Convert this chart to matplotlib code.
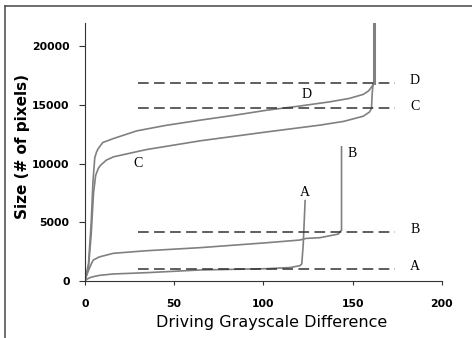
import matplotlib.pyplot as plt
from matplotlib.lines import Line2D

# --- DATA ---
A_X = [0, 1, 3, 4.7, 8, 15.9, 34.5, 64.4, 101.8, 115, 120.4, 121.5, 122.3, 123.4]
A_Y = [0, 150, 300, 370, 480, 600, 710, 940, 1050, 1150, 1300, 1450, 3000, 6850]

B_X = [0, 1, 2.5, 4, 4.7, 8, 15.9, 34.5, 64.4, 101.8, 120.4, 124, 131.7, 139, 142, 143.2, 143.8, 143.8]
B_Y = [0, 500, 1100, 1600, 1790, 2050, 2360, 2580, 2840, 3260, 3490, 3630, 3690, 3910, 4000, 4255, 4300, 11430]

C_X = [0, 2, 3.5, 4.8, 6, 7.5, 8.8, 12, 16, 34.5, 64.4, 101.8, 131.7, 145, 156, 159.5, 160.6, 161, 161.5]
C_Y = [0, 1200, 4000, 7500, 9000, 9600, 9870, 10300, 10580, 11200, 11940, 12700, 13280, 13600, 14040, 14400, 14700, 16000, 16800]

D_X = [0, 2, 3.5, 4.5, 5.5, 6.5, 7.5, 10, 16, 29, 45, 64.4, 85, 101.8, 120, 137, 148, 156, 159, 161, 162, 162]
D_Y = [0, 1500, 5000, 8500, 10500, 11000, 11300, 11800, 12140, 12790, 13250, 13700, 14150, 14550, 14900, 15260, 15550, 15900, 16200, 16600, 16900, 22000]

LEVEL_NAMES = ["A", "B", "C", "D"]
LEVELS = [1000, 4200, 14700, 16900]
LEVEL_START, LEVEL_END = 30, 174

CURVE_LABELS = ["A", "B", "C", "D"]
CURVE_LABEL_X = [123.5, 150, 30, 124]
CURVE_LABEL_Y = [7500, 10900, 10000, 15850]

XTICKS = [0, 50, 100, 150, 200]
YTICKS = [0, 5000, 10000, 15000, 20000]

CURVE_COLOR = "#808080"
DASH_COLOR = "#333333"

plt.rcParams["font.family"] = ["DejaVu Sans"]

fig = plt.figure(figsize=(4.72, 3.38), dpi=100)
ax = fig.add_axes([0.180, 0.1686, 0.756, 0.764])

for xs, ys in [(A_X, A_Y), (B_X, B_Y), (C_X, C_Y), (D_X, D_Y)]:
    ax.plot(xs, ys, color=CURVE_COLOR, linewidth=1.2, solid_joinstyle="round")
# thicker saturated tail on D
ax.plot(D_X[-2:], D_Y[-2:], color=CURVE_COLOR, linewidth=2.2)

for name, lvl in zip(LEVEL_NAMES, LEVELS):
    ax.plot([LEVEL_START, LEVEL_END], [lvl, lvl], color=DASH_COLOR,
            linewidth=1.1, dashes=(7, 3.5))
    ax.text(185, lvl + 200, name, family=["Liberation Serif"], fontsize=10,
            ha="center", va="center", color="black")

for lab, lx, ly in zip(CURVE_LABELS, CURVE_LABEL_X, CURVE_LABEL_Y):
    ax.text(lx, ly, lab, family=["Liberation Serif"], fontsize=10,
            ha="center", va="center", color="black")

ax.set_xlim(0, 200)
ax.set_ylim(0, 22000)
ax.set_xticks(XTICKS)
ax.set_yticks(YTICKS)
ax.set_xticklabels([str(t) for t in XTICKS], fontweight="bold", fontsize=7.8)
ax.set_yticklabels([str(t) for t in YTICKS], fontweight="bold", fontsize=7.8)
ax.tick_params(direction="out", length=4, width=0.8, color="#333333", pad=7)
ax.tick_params(axis="x", length=3, pad=10)

for side in ["top", "right"]:
    ax.spines[side].set_visible(False)
for side in ["left", "bottom"]:
    ax.spines[side].set_color("#333333")
    ax.spines[side].set_linewidth(0.8)

ax.set_xlabel("Driving Grayscale Difference", fontsize=11.5, va="center")
ax.xaxis.set_label_coords(0.524, -0.162)
ax.set_ylabel("Size (# of pixels)", fontsize=11, fontweight="bold", va="center")
ax.yaxis.set_label_coords(-0.176, 0.522)

# outer frame (top and left edges only visible)
fig.add_artist(Line2D([5 / 472, 5 / 472], [0, 1 - 6 / 338], transform=fig.transFigure,
                      color="#555555", linewidth=1.2))
fig.add_artist(Line2D([5 / 472, 1], [1 - 6 / 338, 1 - 6 / 338], transform=fig.transFigure,
                      color="#555555", linewidth=1.2))

fig.savefig("out.png", dpi=100)
